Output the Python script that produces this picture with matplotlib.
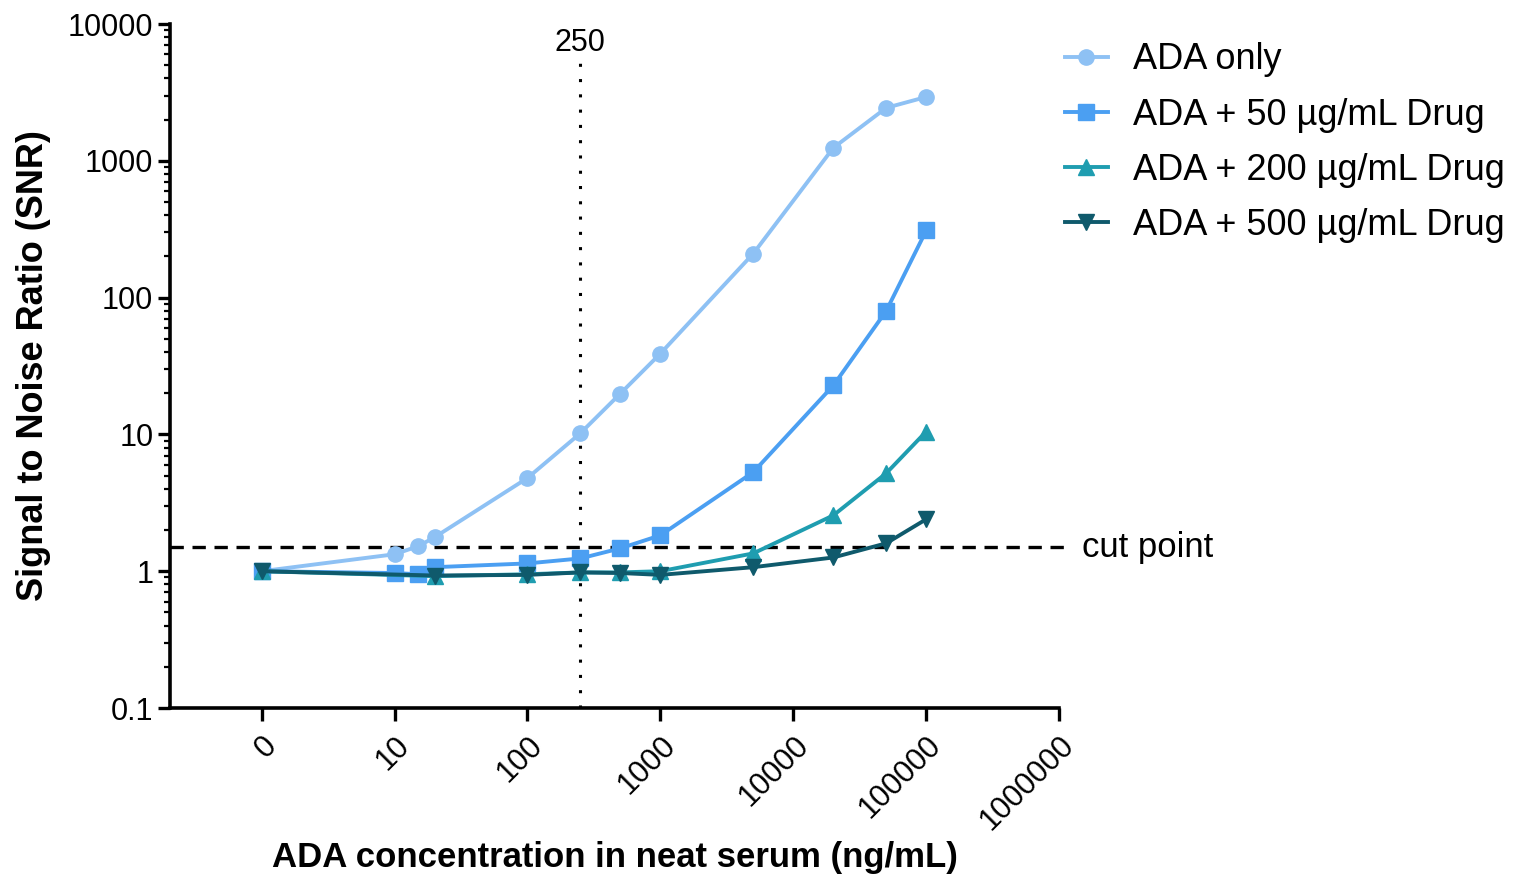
import numpy as np
import matplotlib.pyplot as plt
from matplotlib.ticker import FixedLocator, LogLocator, NullFormatter

plt.rcParams['font.family'] = ['Liberation Sans', 'DejaVu Sans']

# =========================
# DATA ("0" plotted at x = 1)
# =========================

conc_ada = [1, 10, 15, 20, 100, 250, 500, 1000, 5000, 20000, 50000, 100000]
snr_ada = [1.0, 1.33, 1.52, 1.77, 4.8, 10.2, 19.9, 39, 210, 1245, 2440, 2930]

conc_50 = [1, 10, 15, 20, 100, 250, 500, 1000, 5000, 20000, 50000, 100000]
snr_50 = [1.0, 0.97, 0.95, 1.07, 1.14, 1.24, 1.47, 1.83, 5.3, 22.8, 80, 310]

conc_200 = [1, 20, 100, 250, 500, 1000, 5000, 20000, 50000, 100000]
snr_200 = [1.0, 0.92, 0.95, 0.98, 0.98, 1.0, 1.35, 2.56, 5.2, 10.5]

conc_500 = [1, 20, 100, 250, 500, 1000, 5000, 20000, 50000, 100000]
snr_500 = [1.0, 0.93, 0.94, 0.98, 0.97, 0.94, 1.07, 1.26, 1.6, 2.4]

cut_point = 1.5
vline_x = 250

x_ticks = [1, 10, 100, 1000, 10000, 100000, 1000000]
x_tick_labels = ["0", "10", "100", "1000", "10000", "100000", "1000000"]
y_ticks = [0.1, 1, 10, 100, 1000, 10000]
y_tick_labels = ["0.1", "1", "10", "100", "1000", "10000"]

series = [
    (conc_ada, snr_ada, "ADA only", "#8ec1f4", "o"),
    (conc_50, snr_50, "ADA + 50 \u00b5g/mL Drug", "#4b9ff2", "s"),
    (conc_200, snr_200, "ADA + 200 \u00b5g/mL Drug", "#1f9db0", "^"),
    (conc_500, snr_500, "ADA + 500 \u00b5g/mL Drug", "#0f5a6c", "v"),
]

# =========================
# PLOT
# =========================

fig = plt.figure(figsize=(15.24, 8.77), dpi=100)
ax = fig.add_axes([0.1115, 0.1927, 0.695 - 0.1115, 0.9726 - 0.1927])

for x, y, lab, col, mk in series:
    ax.plot(x, y, color=col, marker=mk, markersize=11, linewidth=2.8,
            label=lab, clip_on=False)

ax.set_xscale("log")
ax.set_yscale("log")
ax.set_xlim(10 ** -0.69, 1e6)
ax.set_ylim(0.1, 10000)

# cut point and 250 line
ax.plot([10 ** -0.69, 10 ** 6.05], [cut_point, cut_point], color="black",
        linestyle=(0, (4, 2.6)), linewidth=2.4, clip_on=False, zorder=1)
ax.text(10 ** 6.17, cut_point, "cut point", fontsize=25, va="center", ha="left")
ax.plot([vline_x, vline_x], [0.1, 10 ** 3.72], color="black",
        linestyle=(0, (1, 4)), linewidth=2.2, zorder=1)
ax.text(vline_x, 10 ** 3.75, "250", fontsize=22, ha="center", va="bottom")

ax.xaxis.set_major_locator(FixedLocator(x_ticks))
ax.xaxis.set_minor_locator(FixedLocator([]))
ax.set_xticklabels(x_tick_labels, rotation=45, ha="right", rotation_mode="anchor",
                   fontsize=22)
ax.yaxis.set_major_locator(FixedLocator(y_ticks))
ax.yaxis.set_minor_locator(LogLocator(base=10, subs=np.arange(2, 10)))
ax.yaxis.set_minor_formatter(NullFormatter())
ax.set_yticklabels(y_tick_labels, fontsize=22)

for s in ["top", "right"]:
    ax.spines[s].set_visible(False)
for s in ["left", "bottom"]:
    ax.spines[s].set_linewidth(2.6)
ax.tick_params(axis="both", which="major", width=2.4, length=9)
ax.tick_params(axis="y", which="minor", width=1.6, length=4.5, pad=2)
ax.tick_params(axis="y", which="major", pad=3)
ax.tick_params(axis="x", pad=7)

ax.set_xlabel("ADA concentration in neat serum (ng/mL)", fontsize=25,
              fontweight="bold", va="center")
ax.xaxis.set_label_coords(0.5, -0.218)
ax.set_ylabel("Signal to Noise Ratio (SNR)", fontsize=26, fontweight="bold",
              labelpad=12)

ax.legend(loc="upper left", bbox_to_anchor=(1.0, 0.981), frameon=False,
          fontsize=26, handlelength=1.2, handletextpad=0.7, labelspacing=0.56,
          borderaxespad=0.0, borderpad=0.15)

fig.savefig("out.png", dpi=100)
